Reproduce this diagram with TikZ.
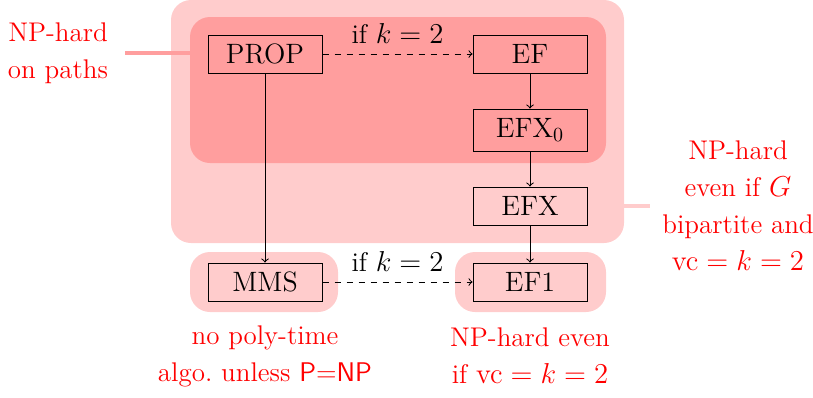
\documentclass[tikz,border=0pt]{standalone}
\usepackage{tikz}
\definecolor{bgl}{RGB}{255,204,204}
\definecolor{bgd}{RGB}{255,158,158}
\definecolor{txtred}{RGB}{255,0,0}
\begin{document}
\begin{tikzpicture}[x=0.5pt,y=-0.5pt,
  font=\fontsize{13.5}{18.5}\selectfont,
  bg/.style={rounded corners=10pt, inner sep=0pt, draw=none},
  cls/.style={draw=black, line width=0.5pt, minimum width=57pt, minimum height=19pt, inner sep=0pt, font=\fontsize{14}{16}\selectfont},
  note/.style={text=txtred, align=center, inner sep=0pt},
  arr/.style={->, line width=0.5pt},
  darr/.style={->, dashed, line width=0.5pt},
  lab/.style={above, inner sep=5pt, font=\fontsize{13.5}{16}\selectfont}
]
\useasboundingbox (0,0) rectangle (813,397);
% backgrounds
\node[bg, fill=bgl, minimum width=226.5pt, minimum height=121.5pt] (outer) at (397.5,121.5) {};
\node[bg, fill=bgd, minimum width=208pt, minimum height=73pt] (inner) at (398,90) {};
\node[bg, fill=bgl, minimum width=74pt, minimum height=30pt] (mmsbg) at (264,282) {};
\node[bg, fill=bgl, minimum width=75.5pt, minimum height=30pt] (efbg) at (530.5,282) {};
% classes
\node[cls] (prop) at (265,54) {PROP};
\node[cls] (ef) at (530,54) {EF};
\node[cls, minimum height=21pt] (efx0) at (530,130) {EFX$_0$};
\node[cls] (efx) at (530,206) {EFX};
\node[cls] (mms) at (265,282) {MMS};
\node[cls] (ef1) at (530,282) {EF1};
% connectors
\draw[darr] (prop) -- node[lab] {if $k=2$} (ef);
\draw[arr] (ef) -- (efx0);
\draw[arr] (efx0) -- (efx);
\draw[arr] (efx) -- (ef1);
\draw[arr] (prop) -- (mms);
\draw[darr] (mms) -- node[lab] {if $k=2$} (ef1);
% notes
\node[note] (nleft) at (58,53) {NP-hard\\on paths};
\node[note] (nright) at (738,206) {NP-hard\\even if $G$\\bipartite and\\$\mathrm{vc}=k=2$};
\node[note] (nmms) at (265,356) {no poly-time\\algo.\ unless \textsf{P=NP}};
\node[note] (nef1) at (530,356) {NP-hard even\\if $\mathrm{vc}=k=2$};
\coordinate (lstart) at (125,53);
\coordinate (rend) at (650,206);
\draw[bgd, line width=2pt] (lstart) -- (lstart -| inner.west);
\draw[bgl, line width=2pt] (rend -| outer.east) -- (rend);
\end{tikzpicture}
\end{document}
